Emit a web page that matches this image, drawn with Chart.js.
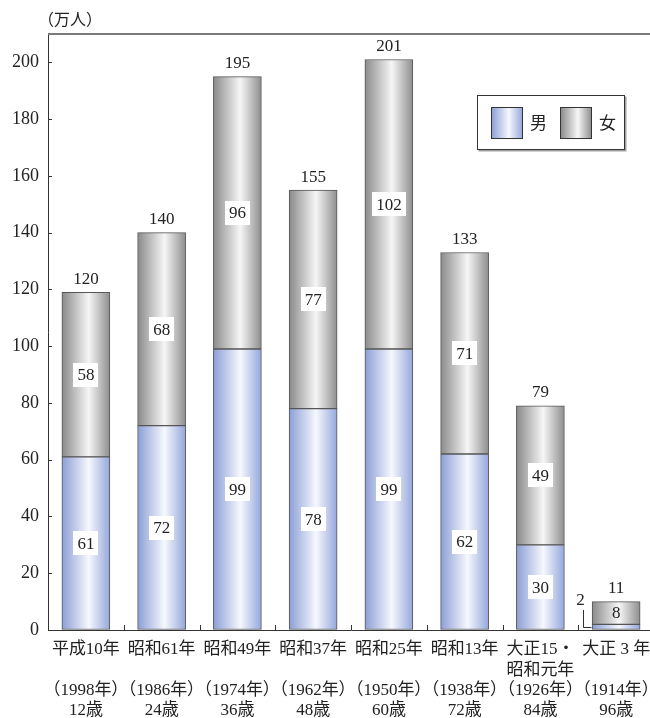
<!DOCTYPE html>
<html lang="ja">
<head>
<meta charset="utf-8">
<script src="https://cdn.jsdelivr.net/npm/chart.js@4/dist/chart.umd.min.js"></script>
<style>
html,body{margin:0;padding:0;background:#fff;overflow:hidden;}
#wrap{width:660px;height:718px;}
</style>
</head>
<body>
<div id="wrap"><canvas id="c" width="660" height="718"></canvas></div>
<script>
// 年次（元号）、生まれ年、年齢
const eraLabels = ['平成10年', '昭和61年', '昭和49年', '昭和37年', '昭和25年', '昭和13年', '大正15・', '大正 3 年'];
const eraSubLabels = ['', '', '', '', '', '', '昭和元年', ''];
const birthYears = ['1998', '1986', '1974', '1962', '1950', '1938', '1926', '1914'];
const ages = ['12', '24', '36', '48', '60', '72', '84', '96'];

// 人口（万人）
const male = [61, 72, 99, 78, 99, 62, 30, 2];
const female = [58, 68, 96, 77, 102, 71, 49, 8];
const totals = [120, 140, 195, 155, 201, 133, 79, 11];

const yTickValues = [0, 20, 40, 60, 80, 100, 120, 140, 160, 180, 200];
const yMax = 210;

const seriesNames = ['男', '女'];

const FONT = '"Liberation Serif", "Noto Sans CJK JP", serif';
const TEXT = '#222';
const BAR_W = 48;

const xLabels = eraLabels.map((e, i) => [e, eraSubLabels[i], '（' + birthYears[i] + '年）', ages[i] + '歳']);

const palettes = {
  male: ['#8c9ed6', '#f6f8fd', '#95a7dc'],
  female: ['#8a8a8a', '#f6f6f6', '#8e8e8e']
};

function barGradient(ctx, left, right, pal) {
  const g = ctx.createLinearGradient(left, 0, right, 0);
  g.addColorStop(0, pal[0]);
  g.addColorStop(0.56, pal[1]);
  g.addColorStop(1, pal[2]);
  return g;
}

// 棒ごとの円柱風グラデーション
function cylinder(pal) {
  return (c) => {
    const chart = c.chart;
    const xs = chart.scales && chart.scales.x;
    if (!xs || !chart.chartArea || c.dataIndex === undefined) return pal[0];
    const x = xs.getPixelForValue(c.dataIndex);
    return barGradient(chart.ctx, x - BAR_W / 2, x + BAR_W / 2, pal);
  };
}

// 枠線・目盛り・凡例・数値ラベル
const decorations = {
  id: 'decorations',
  afterDraw(chart) {
    const ctx = chart.ctx;
    const area = chart.chartArea;
    const ys = chart.scales.y;
    ctx.save();

    // 上辺の枠線
    ctx.strokeStyle = '#7a7a7a';
    ctx.lineWidth = 2;
    ctx.beginPath();
    ctx.moveTo(area.left, area.top);
    ctx.lineTo(chart.width, area.top);
    ctx.stroke();

    // y軸の内向き目盛り
    ctx.strokeStyle = '#333';
    ctx.lineWidth = 1;
    yTickValues.forEach(v => {
      const y = Math.round(ys.getPixelForValue(v)) + 0.5;
      ctx.beginPath();
      ctx.moveTo(area.left, y);
      ctx.lineTo(area.left + 4, y);
      ctx.stroke();
    });

    // x軸の区切り目盛り
    const step = (area.right - area.left) / eraLabels.length;
    for (let i = 1; i < eraLabels.length; i++) {
      const x = Math.round(area.left + step * i) + 0.5;
      ctx.beginPath();
      ctx.moveTo(x, area.bottom);
      ctx.lineTo(x, area.bottom - 5);
      ctx.stroke();
    }

    // 単位
    ctx.fillStyle = TEXT;
    ctx.font = '16px "Noto Sans CJK JP", sans-serif';
    ctx.textAlign = 'left';
    ctx.textBaseline = 'middle';
    ctx.fillText('（万人）', 38, 19);

    // 凡例
    const lx = 477.5, ly = 95.5, lw = 147, lh = 54;
    ctx.strokeStyle = '#a0a0a0';
    ctx.lineWidth = 2;
    ctx.beginPath();
    ctx.moveTo(lx + lw + 1, ly + 1);
    ctx.lineTo(lx + lw + 1, ly + lh + 1);
    ctx.lineTo(lx + 1, ly + lh + 1);
    ctx.stroke();
    ctx.strokeStyle = '#333';
    ctx.lineWidth = 1;
    ctx.strokeRect(lx, ly, lw, lh);
    const swatches = [
      { x: 491.5, pal: palettes.male, name: seriesNames[0], tx: 530 },
      { x: 560.5, pal: palettes.female, name: seriesNames[1], tx: 599 }
    ];
    swatches.forEach(s => {
      ctx.fillStyle = barGradient(ctx, s.x, s.x + 31, s.pal);
      ctx.fillRect(s.x, 107.5, 31, 31);
      ctx.strokeStyle = '#333';
      ctx.strokeRect(s.x, 107.5, 31, 31);
      ctx.fillStyle = TEXT;
      ctx.font = '17px "Noto Sans CJK JP", sans-serif';
      ctx.textAlign = 'left';
      ctx.textBaseline = 'middle';
      ctx.fillText(s.name, s.tx, 123);
    });

    // 数値ラベル
    ctx.font = '17px ' + FONT;
    ctx.textAlign = 'center';
    ctx.textBaseline = 'middle';
    chart.data.datasets.forEach((ds, di) => {
      const meta = chart.getDatasetMeta(di);
      meta.data.forEach((el, i) => {
        const p = el.getProps(['x', 'y', 'base', 'width'], true);
        const h = p.base - p.y;
        const cy = (p.y + p.base) / 2;
        const txt = String(ds.data[i]);
        const tw = ctx.measureText(txt).width;
        if (h >= 26) {
          ctx.fillStyle = '#fff';
          ctx.fillRect(Math.round(p.x - tw / 2 - 4), Math.round(cy - 12), Math.round(tw + 8), 24);
          ctx.fillStyle = TEXT;
          ctx.fillText(txt, p.x, cy + 1);
        } else if (h >= 14) {
          ctx.fillStyle = TEXT;
          ctx.fillText(txt, p.x, cy + 1);
        } else {
          // 小さい区分は引き出し線で外側に表示
          const left = Math.round(p.x - p.width / 2) - 0.5;
          const lx2 = left - 8;
          ctx.strokeStyle = '#333';
          ctx.lineWidth = 1;
          ctx.beginPath();
          ctx.moveTo(left, Math.round(cy) + 0.5);
          ctx.lineTo(lx2, Math.round(cy) + 0.5);
          ctx.lineTo(lx2, cy - 17);
          ctx.stroke();
          ctx.fillStyle = TEXT;
          ctx.fillText(txt, lx2 - 3, cy - 26);
        }
      });
    });

    // 合計
    const topMeta = chart.getDatasetMeta(chart.data.datasets.length - 1);
    topMeta.data.forEach((el, i) => {
      const p = el.getProps(['x', 'y'], true);
      ctx.fillStyle = TEXT;
      ctx.fillText(String(totals[i]), p.x, p.y - 13);
    });

    ctx.restore();
  }
};

new Chart(document.getElementById('c'), {
  type: 'bar',
  data: {
    labels: xLabels,
    datasets: [
      { label: seriesNames[0], data: male, backgroundColor: cylinder(palettes.male), borderColor: '#555', borderWidth: 1, borderSkipped: false, barThickness: BAR_W },
      { label: seriesNames[1], data: female, backgroundColor: cylinder(palettes.female), borderColor: '#555', borderWidth: 1, borderSkipped: false, barThickness: BAR_W }
    ]
  },
  options: {
    responsive: false,
    animation: false,
    devicePixelRatio: 1,
    layout: { padding: { top: 34, right: 6, left: 0, bottom: 0 } },
    plugins: { legend: { display: false }, tooltip: { enabled: false } },
    scales: {
      x: {
        stacked: true,
        grid: { display: false, drawTicks: false },
        border: { display: true, color: '#333', width: 1 },
        ticks: {
          autoSkip: false,
          maxRotation: 0,
          minRotation: 0,
          padding: 10,
          color: TEXT,
          font: { family: FONT, size: 17, lineHeight: 1.18 }
        },
        afterFit(scale) {
          scale.height = 88;
          scale.paddingLeft = 0;
          scale.paddingRight = 0;
        }
      },
      y: {
        stacked: true,
        min: 0,
        max: yMax,
        grid: { drawOnChartArea: false, drawTicks: false },
        border: { display: true, color: '#333', width: 1 },
        afterBuildTicks(scale) { scale.ticks = yTickValues.map(v => ({ value: v })); },
        ticks: {
          padding: 9,
          color: TEXT,
          font: { family: FONT, size: 18 }
        },
        afterFit(scale) {
          scale.width = 48;
          scale.paddingTop = 0;
          scale.paddingBottom = 0;
        }
      }
    }
  },
  plugins: [decorations]
});
</script>
</body>
</html>
